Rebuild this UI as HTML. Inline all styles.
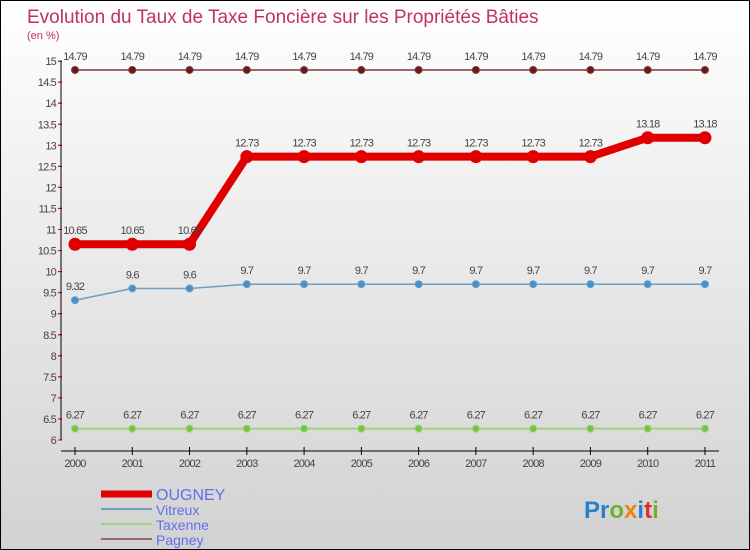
<!DOCTYPE html>
<html><head><meta charset="utf-8"><style>
body{margin:0}
#c{width:748px;height:548px;border:1px solid #000;background:linear-gradient(#fff,#d2d2d2);position:relative;font-family:"Liberation Sans",sans-serif;overflow:hidden}
</style></head><body>
<div id="c">
<svg id="s" width="748" height="548"></svg>
</div>
<script>
const years=["2000","2001","2002","2003","2004","2005","2006","2007","2008","2009","2010","2011"];
const ougney=[10.65,10.65,10.65,12.73,12.73,12.73,12.73,12.73,12.73,12.73,13.18,13.18];
const vitreux=[9.32,9.6,9.6,9.7,9.7,9.7,9.7,9.7,9.7,9.7,9.7,9.7];
const taxenne=[6.27,6.27,6.27,6.27,6.27,6.27,6.27,6.27,6.27,6.27,6.27,6.27];
const pagney=[14.79,14.79,14.79,14.79,14.79,14.79,14.79,14.79,14.79,14.79,14.79,14.79];
const yTicks=["6","6.5","7","7.5","8","8.5","9","9.5","10","10.5","11","11.5","12","12.5","13","13.5","14","14.5","15"];
const ns="http://www.w3.org/2000/svg",s=document.getElementById('s');
const X=i=>74+i*57.27, Y=v=>439-(v-6)*42.1;
function mk(t,a,txt){const e=document.createElementNS(ns,t);for(const k in a)e.setAttribute(k,a[k]);if(txt!=null)e.textContent=txt;s.appendChild(e);return e;}
let t=mk('text',{x:26,y:22,fill:'#c0306a','font-size':19},'Evolution du Taux de Taxe Foncière sur les Propriétés Bâties');


t=mk('text',{x:26,y:38,fill:'#c0306a','font-size':11},'(en %)');


let a=mk('line',{x1:60,y1:Y(15),x2:60,y2:Y(6),stroke:'#000'});


yTicks.forEach(v=>{const y=Y(+v);mk('line',{x1:57,x2:61,y1:y,y2:y,stroke:'#000'});
if(+v>6)mk('line',{x1:57,x2:60,y1:y+21,y2:y+21,stroke:'red'});
const l=mk('text',{x:55,y:y+4,'text-anchor':'end','font-size':11,fill:'#444','letter-spacing':'-0.8'},v);

});
a=mk('line',{x1:60,y1:450,x2:718,y2:450,stroke:'#000'});


years.forEach((yr,i)=>{mk('line',{x1:X(i),x2:X(i),y1:446,y2:454,stroke:'#000'});
const l=mk('text',{x:X(i),y:466,'text-anchor':'middle','font-size':11,fill:'#444','letter-spacing':'-0.8'},yr);

});
function series(d,col,w,r,name,dot){
const p=mk('polyline',{points:d.map((v,i)=>X(i)+','+Y(v)).join(' '),fill:'none',stroke:col,'stroke-width':w});


d.forEach((v,i)=>{const c=mk('circle',{cx:X(i),cy:Y(v),r:r,fill:dot,stroke:col});


const l=mk('text',{x:X(i),y:Y(v)-10,'text-anchor':'middle','font-size':11,fill:'#444','letter-spacing':'-0.8'},String(v));

});}
series(pagney,'#7a3a3a',1.5,3.5,'pagney','#6a1a1a');
series(taxenne,'#a0d080',2,3.5,'taxenne','#70c840');
series(vitreux,'#6aa0c8',1.5,3.5,'vitreux','#4a90c8');
series(ougney,'#e00000',8,6,'ougney','#e00000');
const leg=[["OUGNEY","#e00000",7],["Vitreux","#6aa0c8",2],["Taxenne","#a0d080",2],["Pagney","#9a6a6a",2]];
leg.forEach((e,i)=>{const y=493+i*15;
const l=mk('line',{x1:100,x2:151,y1:y,y2:y,stroke:e[1],'stroke-width':e[2]});


const tx=mk('text',{x:155,y:y+6,'font-size':i?14:16,fill:'#6070ee'},e[0]);

});
const logo=[["P","#2a80d0"],["r","#2a80d0"],["o","#70b030"],["x","#f08010"],["i","#2a80d0"],["t","#e03020"],["i","#70b030"]];
const lt=mk('text',{x:583,y:517,'font-size':24,'font-weight':'bold'});


logo.forEach(q=>{const sp=document.createElementNS(ns,'tspan');sp.setAttribute('fill',q[1]);sp.textContent=q[0];lt.appendChild(sp);});
</script>
</body></html>
